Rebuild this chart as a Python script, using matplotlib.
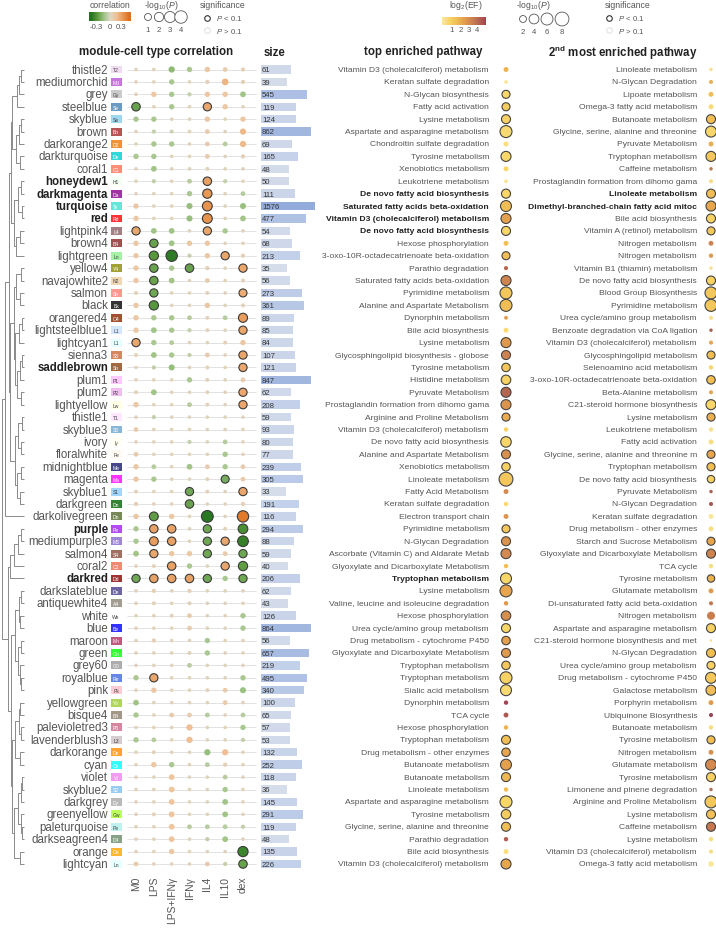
import numpy as np
import matplotlib
matplotlib.use("Agg")
import matplotlib.pyplot as plt
from matplotlib.colors import LinearSegmentedColormap, Normalize, to_rgb
from matplotlib.patches import Rectangle

plt.rcParams['font.family'] = ['Liberation Sans', 'DejaVu Sans']
plt.rcParams['mathtext.fontset'] = 'custom'
plt.rcParams['mathtext.rm'] = 'Liberation Sans'
plt.rcParams['mathtext.it'] = 'Liberation Sans:italic'
plt.rcParams['mathtext.bf'] = 'Liberation Sans:bold'

# ---------------- data ----------------
modules = ['thistle2', 'mediumorchid', 'grey', 'steelblue', 'skyblue', 'brown', 'darkorange2',
           'darkturquoise', 'coral1', 'honeydew1', 'darkmagenta', 'turquoise', 'red', 'lightpink4',
           'brown4', 'lightgreen', 'yellow4', 'navajowhite2', 'salmon', 'black', 'orangered4',
           'lightsteelblue1', 'lightcyan1', 'sienna3', 'saddlebrown', 'plum1', 'plum2', 'lightyellow',
           'thistle1', 'skyblue3', 'ivory', 'floralwhite', 'midnightblue', 'magenta', 'skyblue1',
           'darkgreen', 'darkolivegreen', 'purple', 'mediumpurple3', 'salmon4', 'coral2', 'darkred',
           'darkslateblue', 'antiquewhite4', 'white', 'blue', 'maroon', 'green', 'grey60', 'royalblue',
           'pink', 'yellowgreen', 'bisque4', 'palevioletred3', 'lavenderblush3', 'darkorange', 'cyan',
           'violet', 'skyblue2', 'darkgrey', 'greenyellow', 'paleturquoise', 'darkseagreen4', 'orange',
           'lightcyan']

# R colour values of the module names
module_colors = ['#EED2EE', '#BA55D3', '#BEBEBE', '#4682B4', '#87CEEB', '#A52A2A', '#EE7600',
                 '#00CED1', '#FF7256', '#F0FFF0', '#8B008B', '#40E0D0', '#FF0000', '#8B5F65',
                 '#8B2323', '#90EE90', '#8B8B00', '#EECFA1', '#FA8072', '#000000', '#8B2500',
                 '#CAE1FF', '#E0FFFF', '#CD6839', '#8B4513', '#FFBBFF', '#EEAEEE', '#FFFFE0',
                 '#FFE1FF', '#6CA6CD', '#FFFFF0', '#FFFAF0', '#191970', '#FF00FF', '#87CEFF',
                 '#006400', '#556B2F', '#A020F0', '#8968CD', '#8B4C39', '#EE6A50', '#8B0000',
                 '#483D8B', '#8B8378', '#FFFFFF', '#0000FF', '#B03060', '#00FF00', '#999999', '#4169E1',
                 '#FFC0CB', '#9ACD32', '#8B7D6B', '#CD6889', '#CDC1C5', '#FF8C00', '#00FFFF',
                 '#EE82EE', '#7EC0EE', '#A9A9A9', '#ADFF2F', '#AFEEEE', '#698B69', '#FFA500',
                 '#E0FFFF']

bold_modules = ['honeydew1', 'darkmagenta', 'turquoise', 'red', 'saddlebrown', 'purple', 'darkred']

conditions = ['M0', 'LPS', 'LPS+IFNγ', 'IFNγ', 'IL4', 'IL10', 'dex']

sizes = [61, 39, 545, 119, 124, 862, 69, 165, 48, 50, 111, 1576, 477, 54, 68, 213, 35, 56, 273, 361,
         89, 85, 84, 107, 121, 847, 62, 208, 59, 93, 80, 77, 239, 305, 33, 191, 116, 294, 88, 59,
         40, 206, 62, 43, 126, 864, 56, 657, 219, 495, 340, 100, 65, 57, 53, 132, 252, 118, 36, 145,
         291, 119, 48, 135, 226]

# module-cell type correlation (rows = modules, cols = conditions)
corr = [
    [0.04, 0.04, -0.20, -0.13, 0.13, 0.08, 0.06],
    [0.04, 0.04, -0.13, 0.04, 0.06, 0.22, 0.06],
    [0.04, 0.13, -0.13, -0.06, 0.13, 0.13, -0.15],
    [-0.30, 0.04, -0.13, 0.04, 0.28, 0.13, 0.04],
    [-0.13, -0.13, 0.04, 0.04, 0.13, 0.04, 0.13],
    [0.04, -0.06, -0.05, 0.04, 0.10, 0.04, 0.20],
    [0.04, -0.13, -0.13, 0.04, 0.10, -0.10, 0.20],
    [-0.13, -0.13, 0.04, 0.04, 0.10, 0.04, 0.07],
    [0.04, -0.15, 0.04, 0.04, 0.05, 0.04, 0.04],
    [0.04, -0.07, 0.04, -0.10, 0.30, -0.06, 0.04],
    [0.04, 0.04, 0.04, -0.13, 0.34, 0.04, -0.10],
    [0.13, 0.04, 0.04, -0.18, 0.36, 0.04, -0.17],
    [0.13, 0.04, 0.04, -0.18, 0.36, 0.04, -0.15],
    [0.28, -0.15, -0.15, 0.04, 0.28, -0.13, 0.04],
    [0.13, -0.30, -0.15, 0.13, 0.13, 0.04, 0.04],
    [0.13, -0.34, -0.46, -0.06, 0.13, 0.28, 0.06],
    [0.13, -0.30, -0.13, -0.30, 0.06, 0.04, 0.28],
    [0.13, -0.30, -0.15, 0.04, 0.10, 0.04, 0.05],
    [0.05, -0.28, 0.04, 0.04, 0.05, 0.04, 0.26],
    [0.13, -0.34, 0.04, 0.04, 0.13, 0.04, 0.05],
    [0.13, -0.13, -0.13, -0.10, 0.05, -0.10, 0.32],
    [0.13, -0.15, -0.13, -0.06, 0.05, 0.04, 0.28],
    [0.28, -0.13, -0.10, 0.04, 0.04, 0.05, 0.13],
    [0.05, -0.15, -0.13, -0.07, 0.10, 0.04, 0.28],
    [0.04, -0.07, -0.18, 0.04, 0.05, 0.04, 0.28],
    [0.04, 0.04, 0.04, -0.13, 0.05, 0.04, 0.09],
    [0.05, -0.15, 0.04, 0.04, 0.05, 0.04, 0.28],
    [0.13, 0.04, 0.04, -0.10, 0.05, 0.04, 0.28],
    [0.04, -0.06, 0.04, 0.04, 0.04, 0.04, 0.04],
    [0.10, 0.04, 0.04, 0.04, 0.04, 0.04, 0.04],
    [0.04, 0.04, 0.04, -0.06, 0.04, -0.10, 0.04],
    [0.10, 0.04, 0.04, 0.04, 0.04, -0.13, 0.04],
    [0.13, -0.10, 0.04, -0.15, 0.10, -0.13, 0.10],
    [0.13, -0.13, 0.04, 0.04, 0.05, -0.26, 0.10],
    [0.05, 0.04, 0.04, -0.28, 0.05, 0.04, 0.28],
    [0.07, 0.04, 0.04, -0.30, 0.04, 0.04, 0.06],
    [0.13, -0.32, 0.13, 0.04, -0.48, 0.04, 0.46],
    [-0.13, 0.30, 0.30, 0.04, -0.28, 0.05, -0.38],
    [-0.13, 0.32, 0.30, 0.04, -0.28, 0.28, -0.44],
    [-0.15, 0.28, 0.13, 0.13, -0.28, 0.10, -0.28],
    [0.04, 0.05, 0.30, -0.13, 0.04, 0.28, -0.32],
    [-0.28, 0.30, 0.30, 0.30, -0.28, -0.13, -0.28],
    [0.04, 0.06, 0.04, 0.06, 0.04, 0.04, 0.04],
    [0.04, 0.05, 0.04, 0.05, 0.04, 0.04, 0.04],
    [0.04, 0.04, 0.05, 0.10, 0.04, 0.04, -0.13],
    [0.04, 0.04, 0.04, 0.10, 0.04, 0.04, -0.13],
    [0.04, 0.06, 0.04, 0.04, -0.13, 0.04, 0.04],
    [0.04, 0.04, 0.04, 0.05, -0.13, 0.04, 0.04],
    [0.04, 0.04, 0.04, -0.09, 0.04, 0.04, 0.04],
    [-0.13, 0.28, 0.04, 0.04, 0.04, 0.04, -0.13],
    [0.04, 0.13, 0.04, 0.04, 0.05, 0.10, -0.17],
    [-0.15, 0.04, 0.04, 0.04, 0.04, 0.10, 0.04],
    [-0.13, 0.04, 0.10, 0.10, -0.10, 0.04, -0.10],
    [0.04, 0.04, 0.04, 0.18, 0.04, 0.04, -0.13],
    [-0.13, -0.10, 0.04, 0.18, 0.04, 0.04, -0.07],
    [0.04, 0.05, 0.04, 0.04, -0.18, 0.18, 0.04],
    [0.04, 0.13, -0.13, 0.04, -0.10, 0.06, 0.04],
    [0.04, 0.04, 0.15, 0.04, 0.04, -0.10, 0.04],
    [0.04, 0.04, 0.15, 0.04, 0.04, -0.13, 0.04],
    [0.04, 0.04, 0.15, 0.04, 0.04, -0.15, 0.04],
    [0.04, 0.05, 0.15, 0.04, 0.04, -0.15, 0.04],
    [0.04, 0.04, 0.15, -0.10, -0.10, -0.10, -0.07],
    [0.04, 0.04, 0.15, 0.04, -0.07, -0.15, 0.04],
    [0.04, 0.04, 0.13, 0.04, 0.04, 0.04, -0.42],
    [0.10, 0.04, 0.04, 0.04, 0.10, -0.06, -0.30],
]

# -log10(P) of the correlations
corr_nlp = [
    [0.15, 0.15, 0.75, 0.5, 0.5, 0.35, 0.25],
    [0.15, 0.15, 0.5, 0.15, 0.25, 0.9, 0.25],
    [0.15, 0.5, 0.5, 0.25, 0.5, 0.5, 0.6],
    [1.6, 0.15, 0.5, 0.15, 1.5, 0.5, 0.15],
    [0.5, 0.5, 0.15, 0.15, 0.5, 0.15, 0.5],
    [0.15, 0.25, 0.2, 0.15, 0.35, 0.15, 0.75],
    [0.15, 0.5, 0.5, 0.15, 0.35, 0.35, 0.75],
    [0.5, 0.5, 0.15, 0.15, 0.35, 0.15, 0.25],
    [0.15, 0.6, 0.15, 0.15, 0.2, 0.15, 0.15],
    [0.15, 0.25, 0.15, 0.35, 1.6, 0.25, 0.15],
    [0.15, 0.15, 0.15, 0.5, 2.0, 0.15, 0.35],
    [0.5, 0.15, 0.15, 0.7, 2.3, 0.15, 0.7],
    [0.5, 0.15, 0.15, 0.7, 2.3, 0.15, 0.6],
    [1.5, 0.6, 0.6, 0.15, 1.5, 0.5, 0.15],
    [0.5, 1.6, 0.6, 0.5, 0.5, 0.15, 0.15],
    [0.5, 2.0, 3.2, 0.25, 0.5, 1.5, 0.25],
    [0.5, 1.6, 0.5, 1.6, 0.25, 0.15, 1.5],
    [0.5, 1.6, 0.6, 0.15, 0.35, 0.15, 0.2],
    [0.2, 1.5, 0.15, 0.15, 0.2, 0.15, 1.4],
    [0.5, 2.0, 0.15, 0.15, 0.5, 0.15, 0.2],
    [0.5, 0.5, 0.5, 0.35, 0.2, 0.35, 1.9],
    [0.5, 0.6, 0.5, 0.25, 0.2, 0.15, 1.5],
    [1.5, 0.5, 0.35, 0.15, 0.15, 0.2, 0.5],
    [0.2, 0.6, 0.5, 0.25, 0.35, 0.15, 1.5],
    [0.15, 0.25, 0.7, 0.15, 0.2, 0.15, 1.5],
    [0.15, 0.15, 0.15, 0.5, 0.2, 0.15, 0.35],
    [0.2, 0.6, 0.15, 0.15, 0.2, 0.15, 1.5],
    [0.5, 0.15, 0.15, 0.35, 0.2, 0.15, 1.5],
    [0.15, 0.25, 0.15, 0.15, 0.15, 0.15, 0.15],
    [0.35, 0.15, 0.15, 0.15, 0.15, 0.15, 0.15],
    [0.15, 0.15, 0.15, 0.25, 0.15, 0.35, 0.15],
    [0.35, 0.15, 0.15, 0.15, 0.15, 0.5, 0.15],
    [0.5, 0.35, 0.15, 0.6, 0.35, 0.5, 0.35],
    [0.5, 0.5, 0.15, 0.15, 0.2, 1.4, 0.35],
    [0.2, 0.15, 0.15, 1.5, 0.2, 0.15, 1.5],
    [0.25, 0.15, 0.15, 1.6, 0.15, 0.15, 0.25],
    [0.5, 1.8, 0.5, 0.15, 3.5, 0.15, 3.2],
    [0.5, 1.6, 1.6, 0.15, 1.5, 0.2, 2.2],
    [0.5, 1.8, 1.6, 0.15, 1.5, 1.5, 2.8],
    [0.6, 1.5, 0.5, 0.5, 1.5, 0.35, 1.5],
    [0.15, 0.2, 1.6, 0.5, 0.15, 1.5, 2.0],
    [1.5, 1.6, 1.6, 1.6, 1.5, 0.5, 1.5],
    [0.15, 0.25, 0.15, 0.25, 0.15, 0.15, 0.15],
    [0.15, 0.2, 0.15, 0.2, 0.15, 0.15, 0.15],
    [0.15, 0.15, 0.2, 0.35, 0.15, 0.15, 0.5],
    [0.15, 0.15, 0.15, 0.35, 0.15, 0.15, 0.5],
    [0.15, 0.25, 0.15, 0.15, 0.5, 0.15, 0.15],
    [0.15, 0.15, 0.15, 0.2, 0.5, 0.15, 0.15],
    [0.15, 0.15, 0.15, 0.35, 0.15, 0.15, 0.15],
    [0.5, 1.5, 0.15, 0.15, 0.15, 0.15, 0.5],
    [0.15, 0.5, 0.15, 0.15, 0.2, 0.35, 0.7],
    [0.6, 0.15, 0.15, 0.15, 0.15, 0.35, 0.15],
    [0.5, 0.15, 0.35, 0.35, 0.35, 0.15, 0.35],
    [0.15, 0.15, 0.15, 0.75, 0.15, 0.15, 0.5],
    [0.5, 0.35, 0.15, 0.75, 0.15, 0.15, 0.25],
    [0.15, 0.2, 0.15, 0.15, 0.75, 0.75, 0.15],
    [0.15, 0.5, 0.5, 0.15, 0.35, 0.25, 0.15],
    [0.15, 0.15, 0.6, 0.15, 0.15, 0.35, 0.15],
    [0.15, 0.15, 0.6, 0.15, 0.15, 0.5, 0.15],
    [0.15, 0.15, 0.6, 0.15, 0.15, 0.6, 0.15],
    [0.15, 0.2, 0.6, 0.15, 0.15, 0.6, 0.15],
    [0.15, 0.15, 0.6, 0.35, 0.35, 0.35, 0.25],
    [0.15, 0.15, 0.6, 0.15, 0.25, 0.6, 0.15],
    [0.15, 0.15, 0.5, 0.15, 0.15, 0.15, 2.5],
    [0.35, 0.15, 0.15, 0.15, 0.35, 0.25, 1.6],
]

top_path = ['Vitamin D3 (cholecalciferol) metabolism', 'Keratan sulfate degradation', 'N-Glycan biosynthesis',
            'Fatty acid activation', 'Lysine metabolism', 'Aspartate and asparagine metabolism',
            'Chondroitin sulfate degradation', 'Tyrosine metabolism', 'Xenobiotics metabolism',
            'Leukotriene metabolism', 'De novo fatty acid biosynthesis', 'Saturated fatty acids beta-oxidation',
            'Vitamin D3 (cholecalciferol) metabolism', 'De novo fatty acid biosynthesis', 'Hexose phosphorylation',
            '3-oxo-10R-octadecatrienoate beta-oxidation', 'Parathio degradation',
            'Saturated fatty acids beta-oxidation', 'Pyrimidine metabolism', 'Alanine and Aspartate Metabolism',
            'Dynorphin metabolism', 'Bile acid biosynthesis', 'Lysine metabolism',
            'Glycosphingolipid biosynthesis - globose', 'Tyrosine metabolism', 'Histidine metabolism',
            'Pyruvate Metabolism', 'Prostaglandin formation from dihomo gama', 'Arginine and Proline Metabolism',
            'Vitamin D3 (cholecalciferol) metabolism', 'De novo fatty acid biosynthesis',
            'Alanine and Aspartate Metabolism', 'Xenobiotics metabolism', 'Linoleate metabolism',
            'Fatty Acid Metabolism', 'Keratan sulfate degradation', 'Electron transport chain',
            'Pyrimidine metabolism', 'N-Glycan Degradation', 'Ascorbate (Vitamin C) and Aldarate Metab',
            'Glyoxylate and Dicarboxylate Metabolism', 'Tryptophan metabolism', 'Lysine metabolism',
            'Valine, leucine and isoleucine degradation', 'Hexose phosphorylation',
            'Urea cycle/amino group metabolism', 'Drug metabolism - cytochrome P450',
            'Glyoxylate and Dicarboxylate Metabolism', 'Tryptophan metabolism', 'Tryptophan metabolism',
            'Sialic acid metabolism', 'Dynorphin metabolism', 'TCA cycle', 'Hexose phosphorylation',
            'Tryptophan metabolism', 'Drug metabolism - other enzymes', 'Butanoate metabolism',
            'Butanoate metabolism', 'Linoleate metabolism', 'Aspartate and asparagine metabolism',
            'Tyrosine metabolism', 'Glycine, serine, alanine and threonine', 'Parathio degradation',
            'Bile acid biosynthesis', 'Vitamin D3 (cholecalciferol) metabolism']
top_ef = [2.2, 1.2, 1.5, 1.7, 1.6, 1.4, 1.3, 1.5, 1.5, 1.1,
          1.5, 2.0, 2.5, 1.5, 2.0, 2.0, 3.5, 3.0, 1.8, 2.0,
          2.6, 1.4, 2.6, 3.0, 1.8, 1.6, 3.5, 2.7, 2.3, 1.6,
          1.5, 2.8, 1.6, 1.8, 2.9, 1.4, 2.7, 1.8, 2.7, 2.9,
          2.0, 1.5, 2.4, 2.6, 2.8, 1.5, 2.5, 2.6, 1.8, 1.6,
          1.4, 4.0, 3.7, 2.2, 2.0, 2.4, 2.5, 2.1, 2.0, 1.5,
          1.7, 2.0, 3.6, 1.3, 2.4]
top_nlp = [1.0, 0.5, 2.7, 2.7, 3.4, 6.0, 1.0, 4.2, 1.0, 0.6,
           3.4, 5.0, 4.2, 3.4, 1.0, 2.7, 0.7, 4.2, 6.0, 6.0,
           0.6, 1.0, 4.2, 3.4, 3.0, 3.8, 4.2, 4.2, 2.7, 0.8,
           4.6, 3.4, 3.0, 8.0, 1.0, 0.8, 1.0, 2.7, 3.4, 4.2,
           0.8, 5.0, 6.0, 0.8, 3.8, 3.4, 3.0, 3.4, 3.0, 6.0,
           5.0, 0.8, 1.0, 0.8, 3.4, 3.0, 5.0, 3.4, 0.8, 6.0,
           3.8, 3.4, 0.8, 1.0, 4.2]
top_sig = [0, 0, 1, 1, 1, 1, 0, 1, 0, 0,
           1, 1, 1, 1, 0, 1, 0, 1, 1, 1,
           0, 0, 1, 1, 1, 1, 1, 1, 1, 0,
           1, 1, 1, 1, 0, 0, 0, 1, 1, 1,
           0, 1, 1, 0, 1, 1, 1, 1, 1, 1,
           1, 0, 0, 0, 1, 1, 1, 1, 0, 1,
           1, 1, 0, 0, 1]
top_bold = [10, 11, 12, 13, 41]

sec_path = ['Linoleate metabolism', 'N-Glycan Degradation', 'Lipoate metabolism', 'Omega-3 fatty acid metabolism',
            'Butanoate metabolism', 'Glycine, serine, alanine and threonine', 'Pyruvate Metabolism',
            'Tryptophan metabolism', 'Caffeine metabolism', 'Prostaglandin formation from dihomo gama',
            'Linoleate metabolism', 'Dimethyl-branched-chain fatty acid mitoc', 'Bile acid biosynthesis',
            'Vitamin A (retinol) metabolism', 'Nitrogen metabolism', 'Nitrogen metabolism',
            'Vitamin B1 (thiamin) metabolism', 'De novo fatty acid biosynthesis', 'Blood Group Biosynthesis',
            'Pyrimidine metabolism', 'Urea cycle/amino group metabolism', 'Benzoate degradation via CoA ligation',
            'Vitamin D3 (cholecalciferol) metabolism', 'Glycosphingolipid metabolism',
            'Selenoamino acid metabolism', '3-oxo-10R-octadecatrienoate beta-oxidation',
            'Beta-Alanine metabolism', 'C21-steroid hormone biosynthesis', 'Lysine metabolism',
            'Leukotriene metabolism', 'Fatty acid activation', 'Glycine, serine, alanine and threonine m',
            'Tryptophan metabolism', 'De novo fatty acid biosynthesis', 'Pyruvate Metabolism',
            'N-Glycan Degradation', 'Keratan sulfate degradation', 'Drug metabolism - other enzymes',
            'Starch and Sucrose Metabolism', 'Glyoxylate and Dicarboxylate Metabolism', 'TCA cycle',
            'Tyrosine metabolism', 'Glutamate metabolism', 'Di-unsaturated fatty acid beta-oxidation',
            'Nitrogen metabolism', 'Aspartate and asparagine metabolism',
            'C21-steroid hormone biosynthesis and met', 'N-Glycan Degradation',
            'Urea cycle/amino group metabolism', 'Drug metabolism - cytochrome P450', 'Galactose metabolism',
            'Porphyrin metabolism', 'Ubiquinone Biosynthesis', 'Butanoate metabolism', 'Tyrosine metabolism',
            'Nitrogen metabolism', 'Glutamate metabolism', 'Tyrosine metabolism',
            'Limonene and pinene degradation', 'Arginine and Proline Metabolism', 'Lysine metabolism',
            'Caffeine metabolism', 'Lysine metabolism', 'Vitamin D3 (cholecalciferol) metabolism',
            'Omega-3 fatty acid metabolism']
sec_ef = [1.2, 2.2, 2.0, 1.4, 2.0, 1.5, 2.3, 1.8, 3.2, 1.3,
          2.0, 2.4, 1.6, 1.8, 3.0, 2.6, 1.2, 1.6, 1.8, 1.8,
          1.2, 3.6, 2.4, 2.0, 1.5, 2.0, 2.4, 1.5, 2.2, 1.2,
          1.3, 2.4, 2.0, 1.6, 3.6, 3.7, 1.1, 1.3, 2.4, 3.0,
          1.3, 2.2, 2.6, 3.2, 3.1, 1.6, 1.2, 2.0, 1.6, 1.8,
          2.0, 2.6, 4.0, 1.3, 2.0, 2.8, 2.9, 1.6, 3.4, 1.8,
          1.9, 3.2, 1.3, 1.3, 1.1]
sec_nlp = [0.5, 0.7, 1.0, 1.0, 3.4, 5.0, 1.0, 4.2, 0.5, 0.7,
           3.4, 4.2, 3.4, 2.7, 1.0, 0.8, 0.5, 3.4, 6.0, 6.0,
           0.7, 0.5, 0.7, 2.7, 0.8, 3.0, 0.7, 4.2, 2.7, 0.8,
           1.0, 2.7, 2.7, 2.3, 0.5, 0.7, 1.0, 1.0, 2.7, 3.4,
           0.8, 2.3, 1.0, 0.7, 2.7, 3.4, 0.3, 3.4, 2.7, 5.0,
           4.2, 1.0, 0.7, 0.8, 2.7, 1.0, 5.0, 3.4, 0.5, 6.0,
           3.4, 3.4, 0.8, 0.7, 1.2]
sec_sig = [0, 0, 0, 0, 1, 1, 0, 1, 0, 0,
           1, 1, 1, 1, 0, 0, 0, 1, 1, 1,
           0, 0, 0, 1, 0, 1, 0, 1, 1, 0,
           0, 1, 1, 1, 0, 0, 0, 0, 1, 1,
           0, 1, 0, 0, 0, 1, 0, 1, 1, 1,
           1, 0, 0, 0, 1, 0, 1, 1, 0, 1,
           1, 1, 0, 0, 0]
sec_bold = [10, 11]

# module dendrogram: [merge height, left, right], leaves are row indices
tree = [21,
        [18,
         [14,
          [12,
           [11, [7, [5, [3, 0, 1], 2], 3], [8, [5, [3, 4, 5], 6], [4, 7, 8]]],
           [10, [6, [3, 9, 10], [2, 11, 12]], [8, [4, 13, 14], 15]]],
          [13,
           [10, [8, [3, 16, 17], [4, 18, 19]],
            [9, [5, [2, 20, 21], 22], [7, [4, [2, 23, 24], 25], [3, 26, 27]]]],
           [9, [6, [2, 28, 29], [3, 30, 31]], [7, [3, 32, 33], [4, 34, 35]]]]],
         36],
        [15,
         [13, [10, [6, [3, 37, 38], 39], 40], 41],
         [12,
          [9, [5, [3, 42, 43], [4, 44, 45]], [6, [3, 46, 47], [4, 48, [3, 49, 50]]]],
          [11,
           [9, [5, [4, 51, 52], [3, 53, 54]], [4, 55, 56]],
           [10, [6, [3, [2, 57, 58], 59], [3, 60, [2, 61, 62]]], [4, 63, 64]]]]]]

# ---------------- layout ----------------
W, H = 716, 929
fig = plt.figure(figsize=(W / 100, H / 100), dpi=100)
n = len(modules)
Y0, Y1 = 64.3, 871.2


def px_axes(x0, y0, x1, y1):
    ax = fig.add_axes([x0 / W, 1 - y1 / H, (x1 - x0) / W, (y1 - y0) / H])
    ax.set_axis_off()
    return ax


def rows_ax(x0, x1):
    ax = px_axes(x0, Y0, x1, Y1)
    ax.set_ylim(n - 0.5, -0.5)
    return ax


corr_cmap = LinearSegmentedColormap.from_list(
    'corr', ['#23721d', '#5b9a3f', '#9cc283', '#ddd8c6', '#efc39a', '#e89a58', '#df701d'])
corr_norm = Normalize(-0.5, 0.5)
ef_cmap = LinearSegmentedColormap.from_list(
    'ef', ['#fbe9a0', '#f8d666', '#f1bd55', '#e4a04c', '#cf8450', '#b56650', '#9c4553'])
ef_norm = Normalize(1, 4)


def dot_area(v):
    return ((1.5 + 5.5 * np.sqrt(np.asarray(v))) * 0.72) ** 2


def path_area(v):
    return ((4.9 * np.sqrt(np.asarray(v))) * 0.72) ** 2


grey_txt = '#555555'

# dendrogram
ax_den = rows_ax(1, 25)
ax_den.set_xlim(22, -1)


def draw_node(node):
    if isinstance(node, int):
        return node, 0.0
    h, a, b = node
    ya, ha = draw_node(a)
    yb, hb = draw_node(b)
    ax_den.plot([ha, h, h, hb], [ya, ya, yb, yb], color='#8a8a8a', lw=0.7, solid_capstyle='butt')
    return (ya + yb) / 2, h


draw_node(tree)

# module names + colour boxes
ax_lab = rows_ax(25, 127)
ax_lab.set_xlim(25, 127)
for i, (m, col) in enumerate(zip(modules, module_colors)):
    b = m in bold_modules
    ax_lab.text(108, i, m, ha='right', va='center', fontsize=8.3,
                color='#222222' if b else grey_txt, fontweight='bold' if b else 'normal')
    ax_lab.add_patch(Rectangle((110.5, i - 0.32), 11.3, 0.64, facecolor=col, alpha=0.8,
                               edgecolor='none'))
    r, g, bl = to_rgb(col)
    lum = 0.299 * r + 0.587 * g + 0.114 * bl
    ax_lab.text(116.1, i + 0.03, m[0].upper() + m[-1], ha='center', va='center', fontsize=3.6,
                color='white' if lum < 0.72 else '#444444')

# correlation dot matrix
ax_dot = rows_ax(127.1, 251.9)
ax_dot.set_xlim(-0.5, 6.5)
C = np.array(corr)
P = np.array(corr_nlp)
ax_dot.hlines(np.arange(n), -0.5, 6.75, color='#e2e2e2', lw=0.7, zorder=0, clip_on=False)
yy, xx = np.mgrid[0:n, 0:len(conditions)]
sig = P.ravel() > 1
for mask, ec, lw, z in [(~sig, 'none', 0, 2), (sig, '#3a3a3a', 0.8, 3)]:
    ax_dot.scatter(xx.ravel()[mask], yy.ravel()[mask], s=dot_area(P.ravel()[mask]),
                   c=C.ravel()[mask], cmap=corr_cmap, norm=corr_norm,
                   edgecolors=ec, linewidths=lw, zorder=z, clip_on=False)
for j, cond in enumerate(conditions):
    fig.text((127.1 + (j + 0.5) * (124.8 / 7)) / W, 1 - 877 / H, cond, rotation=90,
             ha='center', va='top', fontsize=7.4, color=grey_txt)

# module sizes
ax_size = rows_ax(261, 330)
ax_size.set_xlim(0.058, 4.05)
logs = np.log10(sizes)
size_cmap = LinearSegmentedColormap.from_list('sz', ['#d7deea', '#c3d0ea', '#93acdc'])
ax_size.barh(np.arange(n), logs, height=0.68, left=0,
             color=size_cmap(Normalize(np.log10(30), np.log10(1600))(logs)))
for i, s in enumerate(sizes):
    ax_size.text(0.115, i + 0.03, str(s), ha='left', va='center', fontsize=5.6, color='#333333')


# enriched pathways
def pathway_column(x0, x1, x_text, x_dot, names, ef, nlp, sg, bold):
    ax = rows_ax(x0, x1)
    ax.set_xlim(x0, x1)
    for i, t in enumerate(names):
        b = i in bold
        ax.text(x_text, i, t, ha='right', va='center', fontsize=6.1,
                color='#222222' if b else grey_txt, fontweight='bold' if b else 'normal')
    sg = np.array(sg, bool)
    yv = np.arange(n)
    for mask, ec, lw, z in [(~sg, 'none', 0, 2), (sg, '#444444', 0.8, 3)]:
        ax.scatter(np.full(mask.sum(), x_dot), yv[mask], s=path_area(np.array(nlp)[mask]),
                   c=np.array(ef)[mask], cmap=ef_cmap, norm=ef_norm,
                   edgecolors=ec, linewidths=lw, zorder=z, clip_on=False)


pathway_column(330, 516, 489, 506, top_path, top_ef, top_nlp, top_sig, top_bold)
pathway_column(516, 716, 697, 711, sec_path, sec_ef, sec_nlp, sec_sig, sec_bold)

# panel titles
for x, t in [(156, 'module-cell type correlation'), (274, 'size'),
             (423, 'top enriched pathway'), (623, r'2$^{\mathbf{nd}}$ most enriched pathway')]:
    fig.text(x / W, 1 - 52.5 / H, t, ha='center', va='center', fontsize=8.3, fontweight='bold',
             color='#222222')

# ---------------- legends ----------------
ax_leg = px_axes(0, 0, W, 44)
ax_leg.set_xlim(0, W)
ax_leg.set_ylim(44, 0)
lt = dict(ha='center', va='center', fontsize=6.2, color=grey_txt)
lk = dict(ha='center', va='center', fontsize=5.6, color=grey_txt)

# correlation colour bar
ax_leg.text(110, 6, 'correlation', **lt)
ax_cb = px_axes(89, 13, 131, 21.5)
grad = np.linspace(-0.55, 0.55, 256)[None, :]
ax_cb.imshow(grad, aspect='auto', cmap=corr_cmap, norm=corr_norm, extent=(-0.55, 0.55, 0, 1))
for v, lab in [(-0.3, '-0.3'), (0, '0'), (0.3, '0.3')]:
    ax_leg.text(110 + v * 38.2 - (2 if v < 0 else 0), 27.5, lab, **lk)

# correlation size legend
ax_leg.text(161, 6, r'-log$_{10}$($\it{P}$)', **lt)
lx = [148, 159, 170, 181]
ax_leg.scatter(lx, [18] * 4, s=dot_area([1, 2, 3, 4]), facecolors='white', edgecolors='#555555',
               linewidths=0.6)
for x, v in zip(lx, [1, 2, 3, 4]):
    ax_leg.text(x, 30, str(v), **lk)

# significance legends
for x0, xt in [(207, 223), (609, 628)]:
    ax_leg.text(xt, 6, 'significance', **lt)
    ax_leg.scatter([x0], [18.5], s=16, facecolors='white', edgecolors='#333333', linewidths=0.8)
    ax_leg.scatter([x0], [31], s=16, facecolors='white', edgecolors='#e2e2e2', linewidths=0.8)
    ax_leg.text(x0 + 9, 18.5, r'$\it{P}$ < 0.1', ha='left', va='center', fontsize=5.6, color=grey_txt)
    ax_leg.text(x0 + 9, 31, r'$\it{P}$ > 0.1', ha='left', va='center', fontsize=5.6, color=grey_txt)

# EF colour bar
ax_leg.text(466, 6, r'log$_2$(EF)', **lt)
ax_cb2 = px_axes(442, 18, 486, 26)
grad2 = np.linspace(0.4, 4.6, 256)[None, :]
ax_cb2.imshow(grad2, aspect='auto', cmap=ef_cmap, norm=Normalize(0.4, 4.6), extent=(0.4, 4.6, 0, 1))
for v in [1, 2, 3, 4]:
    ax_leg.text(452 + (v - 1) * 8.4, 31, str(v), **lk)

# pathway size legend
ax_leg.text(533, 6, r'-log$_{10}$($\it{P}$)', **lt)
lx2 = [523, 534, 547, 562]
ax_leg.scatter(lx2, [20] * 4, s=path_area([2, 4, 6, 8]), facecolors='white', edgecolors='#555555',
               linewidths=0.6)
for x, v in zip(lx2, [2, 4, 6, 8]):
    ax_leg.text(x, 32.5, str(v), **lk)

fig.savefig('out.png', dpi=100)
